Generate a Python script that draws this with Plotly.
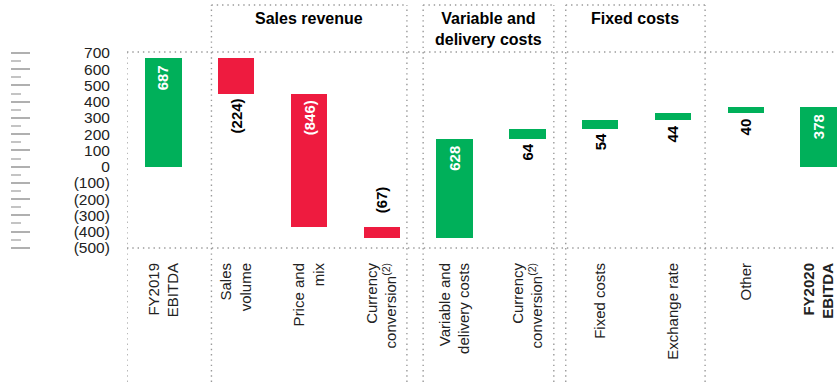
import plotly.graph_objects as go

# EBITDA bridge FY2019 -> FY2020
categories = [
    "FY2019<br>EBITDA",
    "Sales<br>volume",
    "Price and<br>mix",
    "Currency<br>conversion<sup>(2)</sup>",
    "Variable and<br>delivery costs",
    "Currency<br>conversion<sup>(2)</sup>",
    "Fixed costs",
    "Exchange rate",
    "Other",
    "<b>FY2020<br>EBITDA</b>",
]
values = [687, -224, -846, -67, 628, 64, 54, 44, 40, 378]
measures = ["absolute", "relative", "relative", "relative", "relative",
            "relative", "relative", "relative", "relative", "total"]
label_pos = ["inside", "below", "inside", "above", "inside",
             "below", "below", "below", "below", "inside"]

axis_ticks = [700, 600, 500, 400, 300, 200, 100, 0, -100, -200, -300, -400, -500]
axis_tick_text = ["700", "600", "500", "400", "300", "200", "100", "0",
                  "(100)", "(200)", "(300)", "(400)", "(500)"]

# header groups: (title, first category, last category)
groups = [
    ("Sales revenue", 1, 3),
    ("Variable and<br>delivery costs", 4, 5),
    ("Fixed costs", 6, 7),
]

GREEN = "#00B05A"
RED = "#EE1B3F"
DOT = "#9a9a9a"
FONT = "Liberation Sans"

# geometry of the page (pixels)
W, H = 837, 382
PLOT_TOP, PLOT_BOTTOM, PLOT_LEFT = 52, 248, 127
PLOT_H = PLOT_BOTTOM - PLOT_TOP


def py(px):
    """pixel row -> paper y"""
    return (PLOT_BOTTOM - px) / PLOT_H


# running totals for the floating bars
bases, heights, tops, bottoms, colors = [], [], [], [], []
running = 0
for v, m in zip(values, measures):
    if m in ("absolute", "total"):
        start, end = 0, v
    else:
        start, end = running, running + v
    running = end
    lo, hi = min(start, end), max(start, end)
    bases.append(lo)
    heights.append(hi - lo)
    tops.append(hi)
    bottoms.append(lo)
    colors.append(GREEN if v >= 0 else RED)

xs = list(range(len(categories)))

fig = go.Figure()
fig.add_trace(go.Bar(
    x=xs, y=heights, base=bases, width=0.5,
    marker=dict(color=colors, line=dict(width=0)),
    hoverinfo="skip", showlegend=False,
))
# empty traces so the value-label axis and the tick-mark axis are drawn
fig.add_trace(go.Scatter(x=[None], y=[None], yaxis="y2", showlegend=False,
                         hoverinfo="skip"))
fig.add_trace(go.Scatter(x=[None], y=[None], yaxis="y3", showlegend=False,
                         hoverinfo="skip"))


def fmt(v):
    return f"{v}" if v >= 0 else f"({abs(v)})"


annotations = []
for x, v, pos, top, bot in zip(xs, values, label_pos, tops, bottoms):
    if pos == "inside":
        y, ya, shift, col = top, "top", -6, "white"
    elif pos == "below":
        y, ya, shift, col = bot, "top", -4, "black"
    else:
        y, ya, shift, col = top, "bottom", 13, "black"
    annotations.append(dict(
        x=x, y=y, xref="x", yref="y", text=f"<b>{fmt(v)}</b>",
        textangle=-90, showarrow=False, xanchor="center", yanchor=ya,
        yshift=shift, borderpad=0,
        font=dict(family=FONT, size=15, color=col),
    ))

# group boxes with dotted borders
x_edges = {1: (0.660, 3.345), 4: (3.568, 5.363), 6: (5.527, 7.441)}
shapes = []
dot_line = dict(color=DOT, width=1.4, dash="1.4px,3.9px")
top_y, bot_y = py(5), py(H)
for title, first, last in groups:
    x0, x1 = x_edges[first]
    for xv in (x0, x1):
        shapes.append(dict(type="line", xref="x", yref="paper", x0=xv, x1=xv,
                           y0=bot_y, y1=top_y, line=dot_line))
    shapes.append(dict(type="line", xref="x", yref="paper", x0=x0, x1=x1,
                       y0=top_y, y1=top_y, line=dot_line))
    annotations.append(dict(
        x=(x0 + x1) / 2, y=py(8), xref="x", yref="paper", text=f"<b>{title}</b>",
        showarrow=False, xanchor="center", yanchor="top",
        font=dict(family=FONT, size=16, color="black"),
    ))

# frame of the chart area
shapes.append(dict(type="line", xref="x", yref="paper", x0=-0.5, x1=-0.5,
                   y0=bot_y, y1=1, line=dot_line))
for yv in (0, 1):
    shapes.append(dict(type="line", xref="x", yref="paper", x0=-0.5, x1=9.3,
                       y0=yv, y1=yv, line=dot_line))

minor_ticks = [t - 50 for t in axis_ticks[:-1]]
label_range = [-501, 706]

fig.update_layout(
    width=W, height=H,
    margin=dict(l=0, r=0, t=PLOT_TOP, b=H - PLOT_BOTTOM, pad=0),
    paper_bgcolor="white", plot_bgcolor="white",
    showlegend=False, bargap=0,
    font=dict(family=FONT, size=15, color="#222"),
    xaxis=dict(
        domain=[PLOT_LEFT / W, 1], range=[-0.5, 9.253],
        tickmode="array", tickvals=xs, ticktext=categories, tickangle=-90,
        ticks="outside", ticklen=8, tickcolor="rgba(0,0,0,0)",
        tickfont=dict(family=FONT, size=15, color="#222"),
        showgrid=False, zeroline=False, showline=False, automargin=False,
        fixedrange=True,
    ),
    yaxis=dict(
        range=[-515.9, 727.8], showticklabels=False, ticks="",
        showgrid=False, zeroline=False, showline=False, automargin=False,
    ),
    yaxis2=dict(
        range=label_range, overlaying="y", anchor="x", side="left",
        tickmode="array", tickvals=axis_ticks,
        ticktext=axis_tick_text, ticks="outside", ticklen=13,
        tickcolor="rgba(0,0,0,0)",
        tickfont=dict(family=FONT, size=15.5, color="#222"),
        showgrid=False, zeroline=False, showline=False, automargin=False,
    ),
    yaxis3=dict(
        range=label_range, overlaying="y", anchor="free", position=10 / W,
        side="right", tickmode="array", tickvals=axis_ticks, ticks="outside",
        ticklen=19, tickwidth=1.6, tickcolor="#b0b0b0", showticklabels=False,
        minor=dict(tickmode="array", tickvals=minor_ticks, ticks="outside",
                   ticklen=10, tickwidth=1.6, tickcolor="#c4c4c4"),
        showgrid=False, zeroline=False, showline=False, automargin=False,
    ),
    shapes=shapes,
    annotations=annotations,
)

fig.write_html("out.html")
